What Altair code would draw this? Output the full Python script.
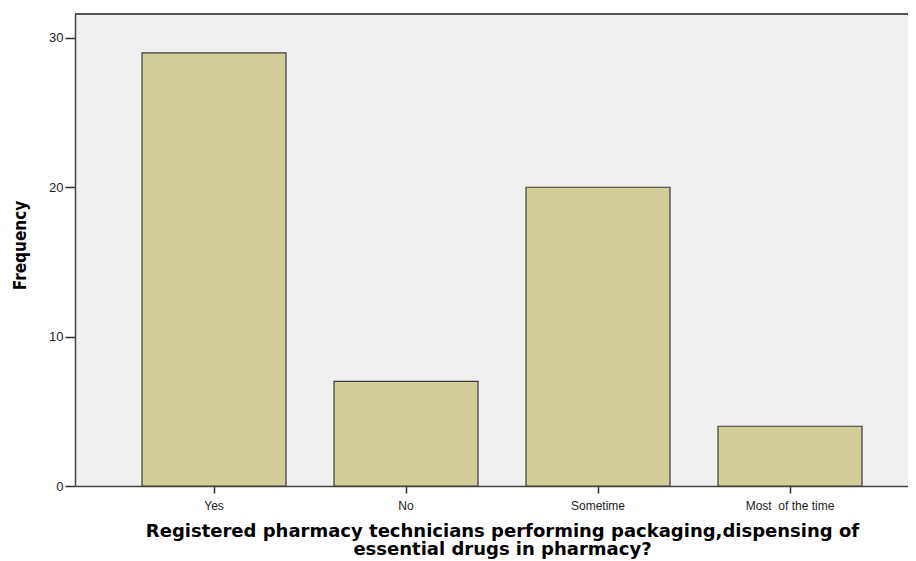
import altair as alt
import pandas as pd

categories = ["Yes", "No", "Sometime", "Most\u00a0 of the time"]
frequency = [29, 7, 20, 4]
y_ticks = [0, 10, 20, 30]

df = pd.DataFrame({"answer": categories, "freq": frequency})

W = 833
H = 472

bars = alt.Chart(df).mark_bar(
    fill="#D3CE97", stroke="#3a3a3a", strokeWidth=1.2
).encode(
    x=alt.X(
        "answer:N",
        sort=categories,
        scale=alt.Scale(paddingInner=0.25, paddingOuter=0.2943, align=0.593),
        axis=alt.Axis(
            title=["Registered pharmacy technicians performing packaging,dispensing of",
                   "essential drugs in pharmacy?"],
            titleFont="DejaVu Sans", titleFontWeight="bold", titleFontSize=18,
            titleLineHeight=18, titleColor="#000000",
            titleBaseline="top", titleY=36, titleX=427, titleAlign="center",
            labelFont="Liberation Sans", labelFontSize=12, labelColor="#222222",
            labelAngle=0, labelPadding=7,
            tickSize=7, tickColor="#333333", tickWidth=1.5,
            domainColor="#444444", domainWidth=1.5,
        ),
    ),
    y=alt.Y(
        "freq:Q",
        scale=alt.Scale(domain=[0, 31.6], nice=False, zero=True),
        axis=alt.Axis(
            values=y_ticks, grid=False, title="Frequency",
            titleFont="Liberation Sans Narrow, DejaVu Sans Condensed, Liberation Sans",
            titleFontWeight="bold", titleFontSize=17, titleColor="#000000",
            titleAngle=270, titleX=-50, titleY=231, titleAlign="center",
            titleBaseline="alphabetic",
            labelFont="Liberation Sans", labelFontSize=13, labelColor="#222222",
            labelPadding=2, tickSize=10, tickColor="#333333", tickWidth=1.5,
            domainColor="#444444", domainWidth=1.5,
        ),
    ),
)

top_border = alt.Chart(df).mark_rule(color="#555555", strokeWidth=1.5).encode(
    x=alt.value(0), x2=alt.value(W), y=alt.value(0)
)

chart = alt.layer(bars, top_border).properties(
    width=W, height=H,
    autosize=alt.AutoSizeParams(type="none"),
    padding={"left": 67, "top": 6, "right": 0, "bottom": 75},
    background="#ffffff",
).configure_view(
    fill="#F0F0F0", strokeWidth=0,
)

chart.save("out.html", embed_options={"renderer": "svg", "actions": False})
